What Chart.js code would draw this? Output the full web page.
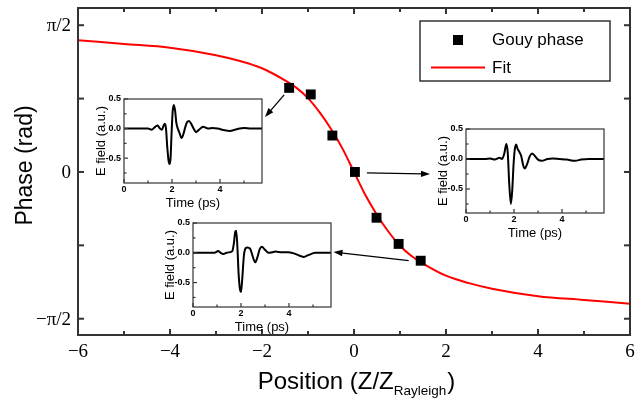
<!DOCTYPE html>
<html>
<head>
<meta charset="utf-8">
<script src="https://cdn.jsdelivr.net/npm/chart.js@4.4.0/dist/chart.umd.min.js"></script>
<style>
  html, body { margin: 0; padding: 0; background: #fff; }
  #wrap { position: relative; width: 642px; height: 400px; overflow: hidden; }
  canvas { position: absolute; }
</style>
</head>
<body>
<div id="wrap">
  <canvas id="main" width="642" height="400" style="left:0;top:0"></canvas>
  <canvas id="in1"></canvas>
  <canvas id="in2"></canvas>
  <canvas id="in3"></canvas>
</div>
<script>
// main plot: measured Gouy phase vs position
const positions = [-1.41, -0.94, -0.47, 0.02, 0.49, 0.97, 1.45];
const gouyPhase = [0.90, 0.83, 0.39, 0.00, -0.49, -0.77, -0.95];

// fit curve
const fitPositions = [-6, -5, -4, -3, -2.5, -2, -1.5, -1.25, -1, -0.75, -0.5, -0.25, 0,
                      0.25, 0.5, 0.75, 1, 1.25, 1.5, 2, 2.5, 3, 4, 5, 6];
const fitPhase = [1.41, 1.37, 1.33, 1.25, 1.19, 1.11, 0.98, 0.90, 0.79, 0.64, 0.46, 0.25, 0,
                  -0.25, -0.46, -0.64, -0.79, -0.90, -0.98, -1.11, -1.19, -1.25, -1.33, -1.37, -1.41];

const xMajor = [-6, -4, -2, 0, 2, 4, 6];
const xMajorLabels = ['\u22126', '\u22124', '\u22122', '0', '2', '4', '6'];
const xMinor = [-5, -3, -1, 1, 3, 5];
const yMajor = [Math.PI / 2, 0, -Math.PI / 2];
const yMajorLabels = ['\u03c0/2', '0', '\u2212\u03c0/2'];
const yMinor = [Math.PI / 4, -Math.PI / 4];

// inset waveforms (E field vs time)
const pulseTimes1 = [0, 0.5, 1.0, 1.15, 1.3, 1.4, 1.5, 1.58, 1.65, 1.7, 1.75, 1.8, 1.86, 1.9, 1.94, 1.98,
  2.03, 2.08, 2.13, 2.18, 2.24, 2.3, 2.4, 2.47, 2.55, 2.63, 2.71, 2.8, 2.9, 3.0, 3.1, 3.3, 3.5, 3.7,
  3.9, 4.2, 4.4, 4.7, 5.0, 5.3, 5.75];
const pulseField1 = [0, 0, 0, -0.02, 0.03, 0.05, 0.0, -0.02, 0.05, 0.08, 0.0, -0.3, -0.55, -0.60, -0.5, -0.1,
  0.3, 0.40, 0.3, 0.1, 0.0, -0.06, -0.16, -0.1, 0.02, 0.11, 0.13, 0.08, 0.0, -0.06, -0.03, 0.03, 0.0, 0.01,
  0.0, -0.03, -0.04, -0.01, 0.01, 0.0, 0];

const pulseTimes2 = [0, 0.8, 1.0, 1.2, 1.4, 1.5, 1.6, 1.68, 1.74, 1.8, 1.87, 1.93, 1.98, 2.03, 2.09, 2.15,
  2.22, 2.3, 2.38, 2.45, 2.55, 2.65, 2.75, 2.85, 3.0, 3.15, 3.4, 3.6, 3.9, 4.2, 4.55, 4.8, 5.1, 5.75];
const pulseField2 = [0, 0, 0.01, -0.01, 0.02, 0.0, 0.1, 0.25, 0.1, -0.4, -0.75, -0.5, -0.1, 0.15, 0.24, 0.17,
  0.12, 0.05, -0.1, -0.16, -0.08, 0.04, 0.09, 0.06, -0.01, -0.03, 0.0, 0.01, 0.0, -0.01, -0.03, -0.01, 0.0, 0];

const pulseTimes3 = [0, 0.9, 1.05, 1.15, 1.26, 1.4, 1.54, 1.64, 1.7, 1.76, 1.8, 1.85, 1.9, 1.96, 2.0, 2.05,
  2.12, 2.2, 2.27, 2.38, 2.48, 2.59, 2.68, 2.78, 2.87, 3.0, 3.15, 3.3, 3.43, 3.7, 3.95, 4.2, 4.45, 4.62,
  4.8, 5.1, 5.75];
const pulseField3 = [0, 0, 0.03, 0.0, -0.02, 0.0, 0.01, 0.03, 0.15, 0.35, 0.37, 0.1, -0.35, -0.62, -0.66, -0.45,
  -0.05, 0.08, 0.09, 0.07, -0.05, -0.16, -0.08, 0.06, 0.10, 0.05, 0.0, 0.01, 0.02, 0.01, 0.01, -0.01, -0.05, -0.07,
  -0.04, 0.0, 0];

const insetXMajor = [0, 2, 4];
const insetXMinor = [1, 3, 5];
const insetYMajor = [0.5, 0, -0.5];
const insetYLabels = ['0.5', '0.0', '-0.5'];
const insetYMinor = [0.25, -0.25, -0.75];

// inset plot boxes on the page
const insets = [
  { id: 'in1', left: 124, top: 99, yMin: -0.92, times: pulseTimes1, field: pulseField1 },
  { id: 'in2', left: 466, top: 129, yMin: -0.90, times: pulseTimes2, field: pulseField2 },
  { id: 'in3', left: 193, top: 223, yMin: -0.91, times: pulseTimes3, field: pulseField3 }
];
const insetW = 138, insetH = 84, insetPad = { left: 44, top: 6, right: 4, bottom: 30 };

function txt(ctx, s, x, y, font, align, baseline, rot) {
  ctx.save();
  ctx.translate(x, y);
  if (rot) ctx.rotate(rot);
  ctx.font = font;
  ctx.textAlign = align;
  ctx.textBaseline = baseline;
  ctx.fillStyle = '#000';
  ctx.fillText(s, 0, 0);
  ctx.restore();
}

function line(ctx, x1, y1, x2, y2) {
  ctx.beginPath();
  ctx.moveTo(x1, y1);
  ctx.lineTo(x2, y2);
  ctx.stroke();
}

function arrow(ctx, x1, y1, x2, y2) {
  const ang = Math.atan2(y2 - y1, x2 - x1);
  const len = 9, half = 3.2;
  ctx.save();
  ctx.strokeStyle = '#000';
  ctx.fillStyle = '#000';
  ctx.lineWidth = 1.3;
  line(ctx, x1, y1, x2 - Math.cos(ang) * len * 0.8, y2 - Math.sin(ang) * len * 0.8);
  ctx.beginPath();
  ctx.moveTo(x2, y2);
  ctx.lineTo(x2 - Math.cos(ang) * len + Math.sin(ang) * half, y2 - Math.sin(ang) * len - Math.cos(ang) * half);
  ctx.lineTo(x2 - Math.cos(ang) * len - Math.sin(ang) * half, y2 - Math.sin(ang) * len + Math.cos(ang) * half);
  ctx.closePath();
  ctx.fill();
  ctx.restore();
}

// arrows from a data point to an inset (end given relative to the inset box)
const arrows = [
  { point: 0, dx: -5, dy: 7, inset: 0, ex: insetW + 3, ey: 18 },
  { point: 3, dx: 12, dy: 1, inset: 1, ex: -36, ey: 45 },
  { point: 6, dx: -12, dy: 0, inset: 2, ex: insetW + 2.5, ey: 29 }
];

const mainDecor = {
  id: 'mainDecor',
  beforeDraw(chart) {
    const ctx = chart.ctx;
    ctx.save();
    ctx.fillStyle = '#fff';
    ctx.fillRect(0, 0, chart.width, chart.height);
    ctx.restore();
  },
  afterDatasetsDraw(chart) {
    const { ctx, chartArea: a, scales: { x, y } } = chart;
    ctx.save();
    ctx.strokeStyle = '#333';
    ctx.lineWidth = 2;
    ctx.strokeRect(a.left, a.top, a.right - a.left, a.bottom - a.top);

    const xt = (vals, len) => vals.forEach(v => {
      const px = x.getPixelForValue(v);
      line(ctx, px, a.bottom, px, a.bottom - len);
      line(ctx, px, a.top, px, a.top + len);
    });
    const yt = (vals, len) => vals.forEach(v => {
      const py = y.getPixelForValue(v);
      line(ctx, a.left, py, a.left + len, py);
      line(ctx, a.right, py, a.right - len, py);
    });
    xt(xMajor, 6); xt(xMinor, 4);
    yt(yMajor, 6); yt(yMinor, 6);

    const serif = '19px "Liberation Serif", "Times New Roman", serif';
    xMajor.forEach((v, i) => txt(ctx, xMajorLabels[i], x.getPixelForValue(v), 357, serif, 'center', 'alphabetic'));
    yMajor.forEach((v, i) => txt(ctx, yMajorLabels[i], 71, y.getPixelForValue(v) + 1, serif, 'right', 'middle'));

    const sans = '"Liberation Sans", Arial, sans-serif';
    txt(ctx, 'Phase (rad)', 32, (a.top + a.bottom) / 2 - 6, '23px ' + sans, 'center', 'alphabetic', -Math.PI / 2);
    ctx.font = '24px ' + sans;
    const main = 'Position (Z/Z';
    const w1 = ctx.measureText(main).width;
    ctx.font = '13.5px ' + sans;
    const w2 = ctx.measureText('Rayleigh').width;
    ctx.font = '24px ' + sans;
    const w3 = ctx.measureText(')').width;
    const x0 = 356 - (w1 + w2 + w3) / 2;
    txt(ctx, main, x0, 389, '24px ' + sans, 'left', 'alphabetic');
    txt(ctx, 'Rayleigh', x0 + w1, 395, '13.5px ' + sans, 'left', 'alphabetic');
    txt(ctx, ')', x0 + w1 + w2 + 1, 389, '24px ' + sans, 'left', 'alphabetic');

    // legend
    ctx.strokeStyle = '#333';
    ctx.lineWidth = 1.5;
    ctx.strokeRect(420, 21, 190, 60);
    ctx.fillStyle = '#000';
    ctx.fillRect(453, 35, 10, 10);
    ctx.strokeStyle = '#ff0000';
    ctx.lineWidth = 2;
    line(ctx, 431, 67.5, 485, 67.5);
    txt(ctx, 'Gouy phase', 492, 40, '17px ' + sans, 'left', 'middle');
    txt(ctx, 'Fit', 492, 68, '17px ' + sans, 'left', 'middle');

    // arrows
    arrows.forEach(ar => {
      const sx = x.getPixelForValue(positions[ar.point]) + ar.dx;
      const sy = y.getPixelForValue(gouyPhase[ar.point]) + ar.dy;
      const ins = insets[ar.inset];
      arrow(ctx, sx, sy, ins.left + ar.ex, ins.top + ar.ey);
    });
    ctx.restore();
  }
};

new Chart(document.getElementById('main'), {
  type: 'scatter',
  data: {
    datasets: [
      {
        label: 'Gouy phase',
        data: positions.map((p, i) => ({ x: p, y: gouyPhase[i] })),
        pointStyle: 'rect',
        pointRadius: 7,
        backgroundColor: '#000',
        borderWidth: 0
      },
      {
        label: 'Fit',
        data: fitPositions.map((p, i) => ({ x: p, y: fitPhase[i] })),
        showLine: true,
        borderColor: '#ff0000',
        borderWidth: 2,
        pointRadius: 0,
        cubicInterpolationMode: 'monotone'
      }
    ]
  },
  options: {
    responsive: false,
    animation: false,
    layout: { padding: { left: 78, right: 12, top: 8, bottom: 65 } },
    scales: {
      x: { type: 'linear', min: -6, max: 6, display: false },
      y: { min: -1.745, max: 1.755, display: false }
    },
    plugins: { legend: { display: false }, tooltip: { enabled: false } }
  },
  plugins: [mainDecor]
});

const insetDecor = {
  id: 'insetDecor',
  beforeDatasetsDraw(chart) {
    const { ctx, chartArea: a } = chart;
    ctx.save();
    ctx.fillStyle = '#fff';
    ctx.fillRect(a.left, a.top, a.right - a.left, a.bottom - a.top);
    ctx.restore();
  },
  afterDatasetsDraw(chart) {
    const { ctx, chartArea: a, scales: { x, y } } = chart;
    ctx.save();
    ctx.strokeStyle = '#333';
    ctx.lineWidth = 1.2;
    ctx.strokeRect(a.left, a.top, a.right - a.left, a.bottom - a.top);
    insetXMajor.forEach(v => { const px = x.getPixelForValue(v); line(ctx, px, a.bottom, px, a.bottom - 4); });
    insetXMinor.forEach(v => { const px = x.getPixelForValue(v); line(ctx, px, a.bottom, px, a.bottom - 2.5); });
    insetYMajor.forEach(v => { const py = y.getPixelForValue(v); line(ctx, a.left, py, a.left + 4, py); });
    insetYMinor.forEach(v => { const py = y.getPixelForValue(v); line(ctx, a.left, py, a.left + 2.5, py); });

    const bold = 'bold 9px "Liberation Sans", Arial, sans-serif';
    insetXMajor.forEach(v => txt(ctx, String(v), x.getPixelForValue(v), a.bottom + 2, bold, 'center', 'top'));
    insetYMajor.forEach((v, i) => txt(ctx, insetYLabels[i], a.left - 3, y.getPixelForValue(v), bold, 'right', 'middle'));
    const sans = '13px "Liberation Sans", Arial, sans-serif';
    txt(ctx, 'Time (ps)', (a.left + a.right) / 2, a.bottom + 20, sans, 'center', 'middle');
    txt(ctx, 'E field (a.u.)', a.left - 19.5, (a.top + a.bottom) / 2, sans, 'center', 'alphabetic', -Math.PI / 2);
    ctx.restore();
  }
};

insets.forEach(ins => {
  const cv = document.getElementById(ins.id);
  cv.width = insetPad.left + insetW + insetPad.right;
  cv.height = insetPad.top + insetH + insetPad.bottom;
  cv.style.left = (ins.left - insetPad.left) + 'px';
  cv.style.top = (ins.top - insetPad.top) + 'px';
  new Chart(cv, {
    type: 'scatter',
    data: {
      datasets: [{
        data: ins.times.map((t, i) => ({ x: t, y: ins.field[i] })),
        showLine: true,
        borderColor: '#000',
        borderWidth: 2,
        pointRadius: 0,
        cubicInterpolationMode: 'monotone'
      }]
    },
    options: {
      responsive: false,
      animation: false,
      layout: { padding: insetPad },
      scales: {
        x: { type: 'linear', min: 0, max: 5.75, display: false },
        y: { min: ins.yMin, max: 0.5, display: false }
      },
      plugins: { legend: { display: false }, tooltip: { enabled: false } }
    },
    plugins: [insetDecor]
  });
});
</script>
</body>
</html>
